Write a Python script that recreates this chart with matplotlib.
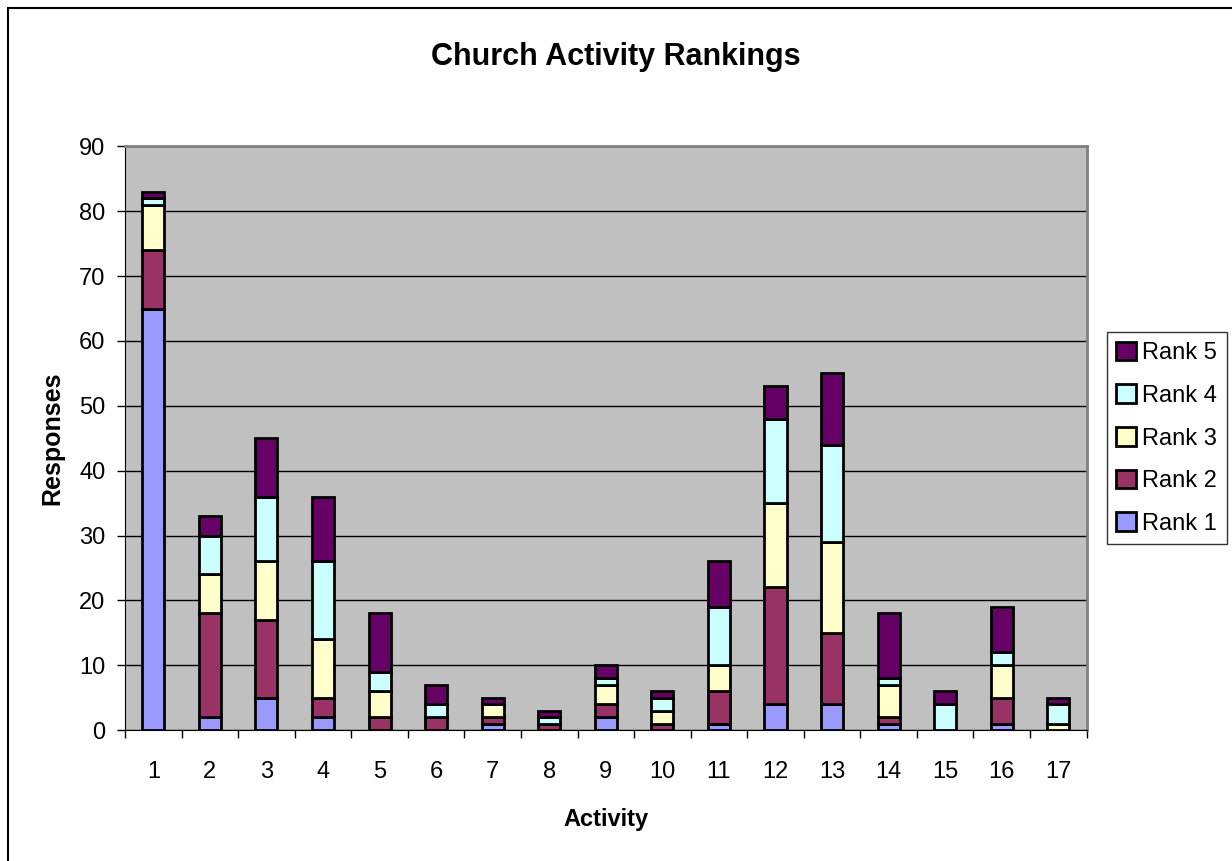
import numpy as np
import matplotlib
matplotlib.use("Agg")
import matplotlib.pyplot as plt
from matplotlib.patches import Rectangle

plt.rcParams["font.family"] = ["Liberation Sans", "DejaVu Sans"]

activities = [str(i) for i in range(1, 18)]
rank1 = [65, 2, 5, 2, 0, 0, 1, 0, 2, 0, 1, 4, 4, 1, 0, 1, 0]
rank2 = [9, 16, 12, 3, 2, 2, 1, 1, 2, 1, 5, 18, 11, 1, 0, 4, 0]
rank3 = [7, 6, 9, 9, 4, 0, 2, 0, 3, 2, 4, 13, 14, 5, 0, 5, 1]
rank4 = [1, 6, 10, 12, 3, 2, 0, 1, 1, 2, 9, 13, 15, 1, 4, 2, 3]
rank5 = [1, 3, 9, 10, 9, 3, 1, 1, 2, 1, 7, 5, 11, 10, 2, 7, 1]

series = [rank1, rank2, rank3, rank4, rank5]
names = ["Rank 1", "Rank 2", "Rank 3", "Rank 4", "Rank 5"]
colors = ["#9999FF", "#993366", "#FFFFCC", "#CCFFFF", "#660066"]

fig = plt.figure(figsize=(12.32, 8.61), dpi=100)
ax = fig.add_axes([0.1015, 0.152, 0.7805, 0.678])
ax.set_facecolor("#C0C0C0")

x = np.arange(len(activities))
bottom = np.zeros(len(activities))
for vals, name, col in zip(series, names, colors):
    ax.bar(x, vals, width=0.39, bottom=bottom, color=col, edgecolor="black",
           linewidth=2, label=name, zorder=3)
    bottom += np.array(vals)

ax.set_xlim(-0.5, len(activities) - 0.5)
ax.set_ylim(0, 90)
ax.set_yticks(range(0, 91, 10))
ax.yaxis.grid(True, color="black", linewidth=1, zorder=1)
ax.set_xticks(x)
ax.set_xticklabels(activities)
ax.set_xticks(np.arange(-0.5, len(activities), 1), minor=True)
ax.tick_params(axis="x", which="major", length=0, pad=22, labelsize=17)
ax.tick_params(axis="x", which="minor", length=6, width=1)
ax.tick_params(axis="y", length=6, width=1, labelsize=17, pad=8)

for side in ["top", "right"]:
    ax.spines[side].set_color("#808080")
    ax.spines[side].set_linewidth(2)
ax.spines["left"].set_color("black")
ax.spines["bottom"].set_color("black")

ax.set_xlabel("Activity", fontsize=17, fontweight="bold", labelpad=18)
ax.set_ylabel("Responses", fontsize=18, fontweight="bold", labelpad=11)
fig.text(0.5, 1 - 57 / 861, "Church Activity Rankings", ha="center",
         va="center", fontsize=22, fontweight="bold")

handles, labels = ax.get_legend_handles_labels()
leg = fig.legend(handles[::-1], labels[::-1], loc="center left",
                 bbox_to_anchor=(0.8985, 0.491), fontsize=17, frameon=True,
                 fancybox=False, edgecolor="black", handlelength=0.85,
                 handleheight=0.85, handletextpad=0.25, labelspacing=0.85,
                 borderpad=0.4, borderaxespad=0)
leg.get_frame().set_linewidth(1)

fig.patches.append(Rectangle((8 / 1232, -0.1), 1.2, 1 - 8 / 861 + 0.1,
                             transform=fig.transFigure, fill=False,
                             edgecolor="black", linewidth=1.5))

fig.savefig("out.png", dpi=100)
